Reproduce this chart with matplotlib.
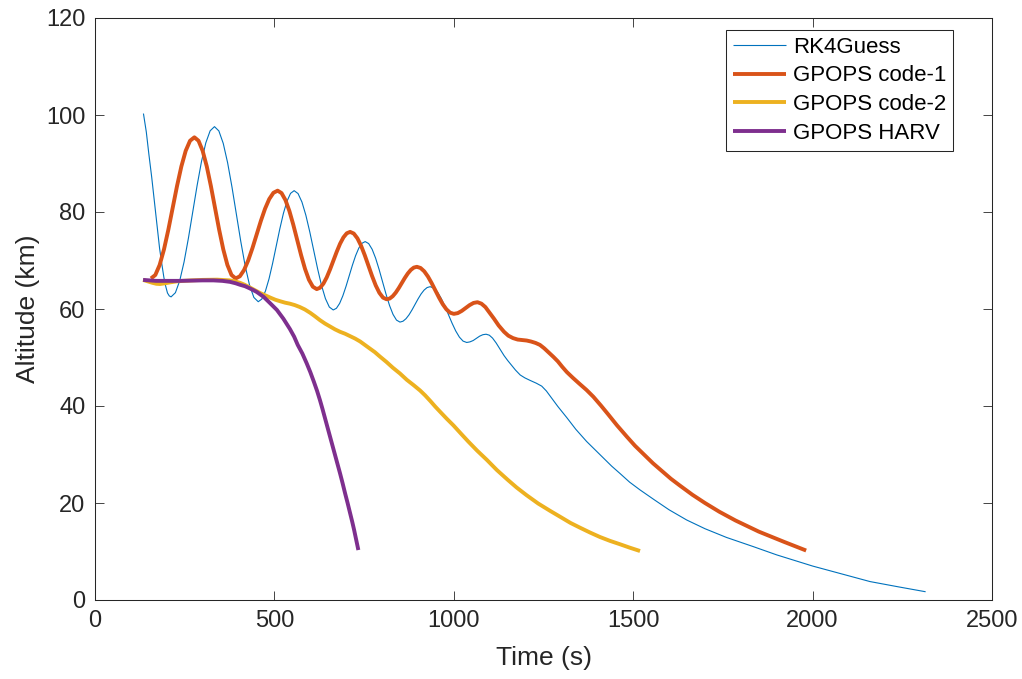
import matplotlib
matplotlib.use("Agg")
import matplotlib.pyplot as plt

plt.rcParams['font.family'] = ['Liberation Sans', 'DejaVu Sans']

# RK4Guess (thin blue)
rk4_t = [135, 143, 150, 158, 165, 172, 180, 186, 192, 197, 202, 207, 212,
         224.1, 236.2, 248.3, 260.4, 272.5, 284.6, 296.7, 308.8, 320.9, 333,
         345.2, 357.4, 369.6, 381.8, 394, 406.2, 418.4, 430.6, 442.8, 455,
         465, 475, 485, 495, 505, 515, 525, 535, 545, 555,
         565.9, 576.8, 587.7, 598.6, 609.5, 620.4, 631.3, 642.2, 653.1, 664,
         672.9, 681.8, 690.7, 699.6, 708.5, 717.4, 726.3, 735.2, 744.1, 753,
         762.7, 772.4, 782.1, 791.8, 801.5, 811.2, 820.9, 830.6, 840.3, 850,
         858.4, 866.8, 875.2, 883.6, 892, 900.4, 908.8, 917.2, 925.6, 934,
         944.2, 954.4, 964.6, 974.8, 985, 995.2, 1005.4, 1015.6, 1025.8, 1036,
         1045, 1054, 1063, 1072, 1081, 1090,
         1099, 1108, 1118, 1128, 1140, 1150, 1160, 1172, 1185, 1198, 1212, 1230, 1245,
         1258, 1272, 1290, 1315, 1340, 1370, 1407, 1440, 1463, 1490, 1519, 1560, 1600,
         1649, 1700, 1760, 1835, 1900, 2000, 2080, 2160, 2240, 2315]
rk4_h = [100.3, 96.5, 92.0, 87.2, 82.5, 77.8, 72.5, 69.4, 66.5, 64.7, 63.3, 62.7, 62.5,
         63.36, 65.85, 69.73, 74.63, 80.05, 85.47, 90.37, 94.25, 96.74, 97.6,
         96.72, 94.15, 90.16, 85.13, 79.55, 73.97, 68.94, 64.95, 62.38, 61.5,
         62.06, 63.69, 66.22, 69.41, 72.95, 76.49, 79.68, 82.21, 83.84, 84.4,
         83.8, 82.05, 79.33, 75.9, 72.1, 68.3, 64.87, 62.15, 60.4, 59.8,
         60.15, 61.15, 62.71, 64.67, 66.85, 69.03, 70.99, 72.55, 73.55, 73.9,
         73.49, 72.31, 70.48, 68.16, 65.6, 63.04, 60.72, 58.89, 57.71, 57.3,
         57.48, 58.0, 58.8, 59.82, 60.95, 62.08, 63.1, 63.9, 64.42, 64.6,
         64.32, 63.5, 62.23, 60.63, 58.85, 57.07, 55.47, 54.2, 53.38, 53.1,
         53.22, 53.5, 53.95, 54.4, 54.7, 54.8,
         54.6, 54.0, 53.0, 51.8, 50.4, 49.4, 48.5, 47.4, 46.4, 45.8, 45.3, 44.7, 44.1,
         43.1, 41.7, 39.9, 37.6, 35.2, 32.7, 30.0, 27.6, 26.1, 24.3, 22.7, 20.6, 18.6,
         16.5, 14.7, 12.9, 11.0, 9.3, 7.0, 5.4, 3.8, 2.7, 1.7]

# GPOPS code-1 (orange)
c1_t = [156, 168.1, 180.2, 192.3, 204.4, 216.5, 228.6, 240.7, 252.8, 264.9, 277,
        288.5, 300, 311.5, 323, 334.5, 346, 357.5, 369, 380.5, 392,
        403.7, 415.4, 427.1, 438.8, 450.5, 462.2, 473.9, 485.6, 497.3, 509,
        519.9, 530.8, 541.7, 552.6, 563.5, 574.4, 585.3, 596.2, 607.1, 618,
        627.3, 636.6, 645.9, 655.2, 664.5, 673.8, 683.1, 692.4, 701.7, 711,
        721.2, 731.4, 741.6, 751.8, 762, 772.2, 782.4, 792.6, 802.8, 813,
        821.4, 829.8, 838.2, 846.6, 855, 863.4, 871.8, 880.2, 888.6, 897,
        907.3, 917.6, 927.9, 938.2, 948.5, 958.8, 969.1, 979.4, 989.7, 1000,
        1011, 1022, 1033, 1044, 1055, 1066,
        1077, 1088, 1100, 1112, 1125, 1140, 1152, 1165, 1178, 1190, 1203, 1215, 1228, 1240,
        1252, 1265, 1278, 1290, 1302, 1315, 1332, 1350, 1370, 1389, 1410, 1430, 1455, 1482,
        1505, 1530, 1555, 1580, 1605, 1630, 1665, 1700, 1740, 1785, 1850, 1920, 1982]
c1_h = [66.3, 67.01, 69.08, 72.3, 76.35, 80.85, 85.35, 89.4, 92.62, 94.69, 95.4,
        94.69, 92.62, 89.4, 85.35, 80.85, 76.35, 72.3, 69.08, 67.01, 66.3,
        66.74, 68.03, 70.03, 72.55, 75.35, 78.15, 80.67, 82.67, 83.96, 84.4,
        83.9, 82.46, 80.22, 77.39, 74.25, 71.11, 68.28, 66.04, 64.6, 64.1,
        64.39, 65.23, 66.53, 68.18, 70.0, 71.82, 73.47, 74.77, 75.61, 75.9,
        75.56, 74.57, 73.04, 71.1, 68.95, 66.8, 64.86, 63.33, 62.34, 62.0,
        62.16, 62.64, 63.38, 64.31, 65.35, 66.39, 67.32, 68.06, 68.54, 68.7,
        68.46, 67.77, 66.7, 65.35, 63.85, 62.35, 61.0, 59.93, 59.24, 59.0,
        59.15, 59.6, 60.2, 60.8, 61.25, 61.4,
        61.1, 60.4, 59.2, 58.0, 56.6, 55.3, 54.5, 54.0, 53.7, 53.6, 53.5, 53.3, 53.0, 52.6,
        51.9, 51.0, 50.1, 49.2, 48.1, 47.0, 45.8, 44.6, 43.3, 41.9, 40.1, 38.3, 36.0, 33.7,
        31.8, 30.0, 28.2, 26.6, 25.0, 23.6, 21.7, 20.0, 18.2, 16.4, 14.1, 12.0, 10.2]

# GPOPS code-2 (yellow)
c2_t = [134, 147, 160, 171, 181, 195, 210, 228, 246, 270, 300, 340, 376, 390, 404,
        417, 430, 445, 460, 475, 490, 503, 516, 530, 543, 557, 571, 585, 600, 613,
        627, 641, 655, 669, 683, 697, 711, 725, 739, 752, 765, 780, 794, 812, 830,
        850, 869, 888, 906, 920, 935, 948, 962, 980, 999, 1020, 1040, 1065, 1092,
        1120, 1150, 1175, 1203, 1235, 1268, 1300, 1325, 1352, 1380, 1407, 1435,
        1463, 1490, 1519]
c2_h = [66.0, 65.7, 65.4, 65.2, 65.15, 65.3, 65.5, 65.7, 65.8, 65.9, 66.0, 66.05, 65.9, 65.7, 65.4,
        65.0, 64.5, 63.9, 63.3, 62.8, 62.3, 61.9, 61.6, 61.3, 61.1, 60.8, 60.4, 59.9, 59.2, 58.5,
        57.7, 57.0, 56.4, 55.8, 55.3, 54.9, 54.4, 53.9, 53.3, 52.6, 51.9, 51.1, 50.2, 49.1, 47.9,
        46.7, 45.4, 44.3, 43.2, 42.2, 41.0, 39.9, 38.8, 37.4, 36.0, 34.3, 32.7, 30.8, 28.9,
        26.8, 24.8, 23.2, 21.6, 19.9, 18.4, 17.0, 15.9, 14.9, 13.9, 13.0, 12.2,
        11.5, 10.8, 10.1]

# GPOPS HARV (purple)
harv_t = [134, 170, 200, 235, 265, 300, 330, 355, 376, 392, 404, 418, 430, 441, 451,
          470, 488, 507, 525, 543, 555, 565, 578, 590, 600, 610, 619, 627, 634, 641,
          648, 655, 662, 669, 676, 683, 690, 697, 704, 711, 717, 722, 728, 734]
harv_h = [66.0, 65.8, 65.8, 65.8, 65.85, 65.9, 65.9, 65.8, 65.6, 65.3, 65.0, 64.7, 64.3, 63.9, 63.5,
          62.5, 61.2, 59.8, 58.0, 55.9, 54.3, 52.6, 50.8, 48.8, 47.0, 45.0, 43.1, 41.2, 39.4, 37.5,
          35.6, 33.7, 31.8, 29.9, 28.0, 26.1, 24.1, 22.0, 20.0, 17.9, 16.1, 14.5, 12.4, 10.3]

fig = plt.figure(figsize=(10.22, 6.79), dpi=100)
ax = fig.add_axes([95 / 1022, 79 / 679, 897 / 1022, 582 / 679])

kw = dict(solid_joinstyle='round', solid_capstyle='butt')
ax.plot(rk4_t, rk4_h, color='#0072BD', lw=0.8, label='RK4Guess', **kw)
ax.plot(c1_t, c1_h, color='#D95319', lw=2.8, label='GPOPS code-1', **kw)
ax.plot(c2_t, c2_h, color='#EDB120', lw=2.8, label='GPOPS code-2', **kw)
ax.plot(harv_t, harv_h, color='#7E2F8E', lw=2.8, label='GPOPS HARV', **kw)

ax.set_xlim(0, 2500)
ax.set_ylim(0, 120)
ax.set_xticks([0, 500, 1000, 1500, 2000, 2500])
ax.set_yticks([0, 20, 40, 60, 80, 100, 120])
ax.set_xlabel('Time (s)', fontsize=19, color='#262626', labelpad=10)
ax.set_ylabel('Altitude (km)', fontsize=19, color='#262626', labelpad=4)

ax.tick_params(direction='in', top=True, right=True, length=6.5, width=0.6,
               color='#262626', labelcolor='#262626', labelsize=17, pad=7)
for s in ax.spines.values():
    s.set_color('#262626')
    s.set_linewidth(0.75)

leg = ax.legend(loc='upper right', bbox_to_anchor=(0.9565, 0.9794), borderaxespad=0,
                fontsize=16, fancybox=False, framealpha=1, edgecolor='#262626',
                handlelength=2.4, handletextpad=0.3, labelspacing=0.35, borderpad=0.3)
leg.get_frame().set_linewidth(0.75)

fig.savefig('out.png', dpi=100)
